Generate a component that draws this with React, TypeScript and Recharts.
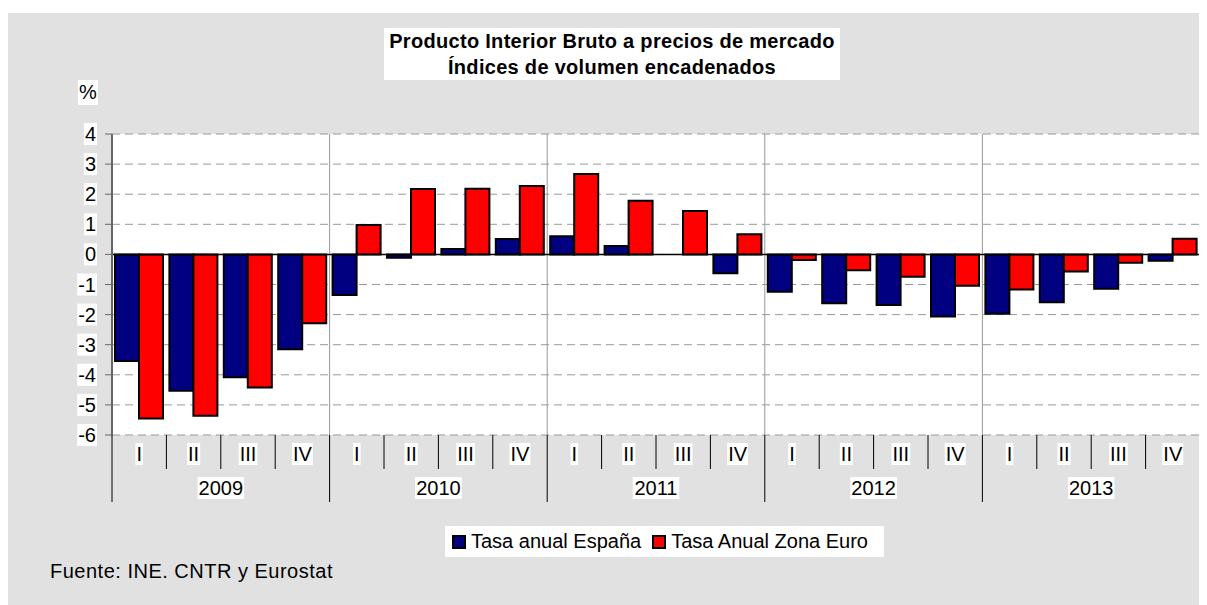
import React from "react";
import {
  BarChart,
  Bar,
  XAxis,
  YAxis,
  CartesianGrid,
  ReferenceLine,
} from "recharts";

const FONT = '"Liberation Sans", Arial, sans-serif';

const years = ["2009", "2010", "2011", "2012", "2013"];
const quarters = ["I", "II", "III", "IV"];

// tasa anual, %
const spain = [
  -3.54, -4.53, -4.08, -3.15,
  -1.35, -0.11, 0.18, 0.51,
  0.6, 0.28, 0.0, -0.63,
  -1.24, -1.62, -1.68, -2.06,
  -1.97, -1.59, -1.14, -0.21,
];
const euro = [
  -5.45, -5.36, -4.42, -2.29,
  0.98, 2.17, 2.18, 2.27,
  2.67, 1.78, 1.44, 0.67,
  -0.19, -0.53, -0.74, -1.04,
  -1.17, -0.57, -0.28, 0.52,
];
const yTicks = [-6, -5, -4, -3, -2, -1, 0, 1, 2, 3, 4];

const seriesNames = ["Tasa anual España", "Tasa Anual Zona Euro"];
const seriesColors = ["#000080", "#ff0000"];

const data = years.flatMap((y, yi) =>
  quarters.map((q, qi) => ({
    key: `${y}-${q}`,
    spain: spain[yi * 4 + qi],
    euro: euro[yi * 4 + qi],
  }))
);

// ancho aproximado de texto para las cajas blancas de las etiquetas
const charW: Record<string, number> = { "-": 0.333, I: 0.278, V: 0.667 };
const textWidth = (s: string, fs: number) =>
  s.split("").reduce((acc, c) => acc + (charW[c] ?? 0.556), 0) * fs;

const FS = 20;

function Label({ x, y, text }: { x: number; y: number; text: string }) {
  const w = textWidth(text, FS);
  return (
    <g>
      <rect x={x - w / 2 - 1} y={y - 11} width={w + 2} height={22} fill="#fff" />
      <text
        x={x}
        y={y}
        textAnchor="middle"
        dominantBaseline="central"
        fontSize={FS}
        fontFamily={FONT}
        fill="#000"
      >
        {text}
      </text>
    </g>
  );
}

function YTick(props: any) {
  const { x, y, payload } = props;
  const label = String(payload.value);
  const w = textWidth(label, FS);
  return (
    <g>
      <rect x={x - w - 1} y={y - 11} width={w + 2} height={22} fill="#fff" />
      <text
        x={x}
        y={y}
        textAnchor="end"
        dominantBaseline="central"
        fontSize={FS}
        fontFamily={FONT}
        fill="#000"
      >
        {label}
      </text>
    </g>
  );
}

function QuarterTick(props: any) {
  const { x, y, payload, index } = props;
  const half = payload.offset ?? 0;
  const [year, q] = String(payload.value).split("-");
  const isYearStart = index % 4 === 0;
  const isLast = index === data.length - 1;
  return (
    <g>
      <line
        x1={x - half}
        x2={x - half}
        y1={y}
        y2={y + (isYearStart ? 67 : 34)}
        stroke="#000"
      />
      {isLast && (
        <line x1={x + half} x2={x + half} y1={y} y2={y + 67} stroke="#000" />
      )}
      <Label x={x} y={y + 19} text={q} />
      {index % 4 === 1 && <Label x={x + half} y={y + 53} text={year} />}
    </g>
  );
}

export default function App() {
  return (
    <div
      style={{
        position: "relative",
        marginTop: 5,
        width: 1199,
        height: 592,
        background: "#e1e1e1",
        fontFamily: FONT,
      }}
    >
      <div style={{ position: "absolute", left: 0, top: 0 }}>
        <BarChart
          width={1199}
          height={592}
          data={data}
          margin={{ top: 121, right: 7, bottom: 90, left: 54 }}
          barCategoryGap={3}
          barGap={0}
        >
          <CartesianGrid
            vertical={false}
            stroke="#999"
            strokeDasharray="8 5"
            fill="#fff"
          />
          <XAxis
            dataKey="key"
            interval={0}
            height={80}
            tickLine={false}
            axisLine={false}
            tickSize={0}
            tickMargin={0}
            tick={<QuarterTick />}
          />
          <YAxis
            type="number"
            domain={[-6, 4]}
            ticks={yTicks}
            interval={0}
            width={50}
            tickSize={7}
            tickMargin={9}
            axisLine={{ stroke: "#666", strokeWidth: 2 }}
            tickLine={{ stroke: "#666" }}
            tick={<YTick />}
          />
          {years.slice(1).map((y) => (
            <ReferenceLine
              key={y}
              x={`${y}-I`}
              position="start"
              stroke="#999"
            />
          ))}
          <ReferenceLine
            x={data[data.length - 1].key}
            position="end"
            stroke="#aaa"
          />
          <ReferenceLine y={0} stroke="#000" strokeWidth={1.5} />
          <Bar
            dataKey="spain"
            name={seriesNames[0]}
            fill={seriesColors[0]}
            stroke="#000"
            strokeWidth={2}
            isAnimationActive={false}
          />
          <Bar
            dataKey="euro"
            name={seriesNames[1]}
            fill={seriesColors[1]}
            stroke="#000"
            strokeWidth={2}
            isAnimationActive={false}
          />
        </BarChart>
      </div>

      <div
        style={{
          position: "absolute",
          left: 376,
          top: 15,
          width: 456,
          height: 52,
          background: "#fff",
          textAlign: "center",
          fontWeight: "bold",
          fontSize: 20,
          lineHeight: "26px",
          letterSpacing: 0.3,
        }}
      >
        Producto Interior Bruto a precios de mercado
        <br />
        Índices de volumen encadenados
      </div>

      <div
        style={{
          position: "absolute",
          left: 70,
          top: 67,
          width: 20,
          height: 25,
          background: "#fff",
          textAlign: "center",
          fontSize: 20,
          lineHeight: "25px",
        }}
      >
        %
      </div>

      <div
        style={{
          position: "absolute",
          left: 437,
          top: 513,
          width: 439,
          height: 31,
          background: "#fff",
          display: "flex",
          alignItems: "center",
          paddingLeft: 7,
          boxSizing: "border-box",
          fontSize: 20,
          whiteSpace: "nowrap",
        }}
      >
        {seriesNames.map((n, i) => (
          <React.Fragment key={n}>
            <span
              style={{
                width: 14,
                height: 14,
                boxSizing: "border-box",
                border: "2px solid #000",
                background: seriesColors[i],
                marginRight: 5,
                flex: "none",
              }}
            />
            <span style={{ marginRight: 11 }}>{n}</span>
          </React.Fragment>
        ))}
      </div>

      <div
        style={{
          position: "absolute",
          left: 42,
          top: 546,
          fontSize: 20,
          lineHeight: "24px",
          letterSpacing: 0.5,
        }}
      >
        Fuente: INE. CNTR y Eurostat
      </div>
    </div>
  );
}
